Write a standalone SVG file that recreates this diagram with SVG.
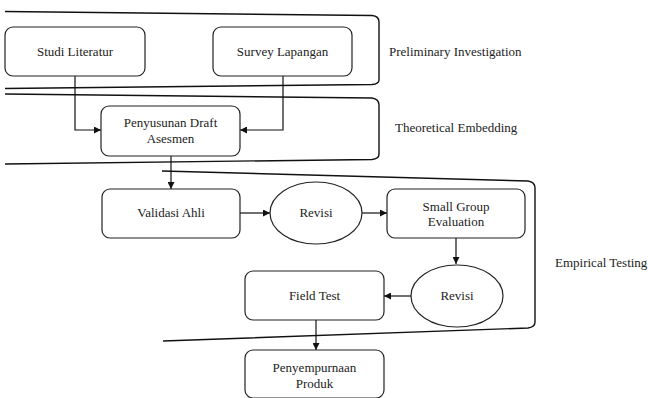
<svg xmlns="http://www.w3.org/2000/svg" width="648" height="398" viewBox="0 0 648 398">
<style>
.box{fill:#fff;stroke:#222;stroke-width:1.2}
.ell{fill:#fff;stroke:#222;stroke-width:1.2}
.ln{fill:none;stroke:#111;stroke-width:1.2}
.br{fill:none;stroke:#111;stroke-width:1.4}
text{font-family:'Liberation Serif','DejaVu Serif',serif;font-size:13px;fill:#222;text-anchor:middle}
.lbl{text-anchor:start}
</style>
<defs>
<marker id="ah" viewBox="0 0 10 10" refX="10" refY="5" markerWidth="7" markerHeight="7" markerUnits="userSpaceOnUse" orient="auto">
<path d="M0,0 L10,5 L0,10 z" fill="#111"/>
</marker>
</defs>
<g id="brackets">
<path class="br" d="M5,11.5 L372,15.5 Q379,16 379,22 L379,80 Q379,84 372,84.5 L5,88.5"/>
<path class="br" d="M5,94 L372,98 Q379,99 379,105 L379,154 Q379,159 372,159.5 L5,164"/>
<path class="br" d="M162,171 L528,181 Q535,182 535,188 L535,322 Q535,327 528,328 L163,341"/>
</g>
<g id="labels" font-family="Liberation Serif, DejaVu Serif, serif">
<text class="lbl" x="389" y="56">Preliminary Investigation</text>
<text class="lbl" x="395" y="132">Theoretical Embedding</text>
<text class="lbl" x="555" y="267">Empirical Testing</text>
</g>
<g id="connectors">
<path class="ln" d="M75,76 L75,130 L101,130" marker-end="url(#ah)"/>
<path class="ln" d="M283,76 L283,130 L240,130" marker-end="url(#ah)"/>
<path class="ln" d="M171,156 L171,189" marker-end="url(#ah)"/>
<path class="ln" d="M240,213 L270,213" marker-end="url(#ah)"/>
<path class="ln" d="M362,213 L387,213" marker-end="url(#ah)"/>
<path class="ln" d="M456,238 L456,264" marker-end="url(#ah)"/>
<path class="ln" d="M411,296 L384,296" marker-end="url(#ah)"/>
<path class="ln" d="M316,320 L316,350" marker-end="url(#ah)"/>
</g>
<g id="studi-literatur">
<rect class="box" x="5" y="27" width="140" height="49" rx="8"/>
<text x="75" y="56">Studi Literatur</text>
</g>
<g id="survey-lapangan">
<rect class="box" x="213" y="27" width="139" height="49" rx="8"/>
<text x="282.5" y="56">Survey Lapangan</text>
</g>
<g id="penyusunan-draft">
<rect class="box" x="101" y="106" width="139" height="50" rx="8"/>
<text x="170.5" y="127">Penyusunan Draft</text>
<text x="170.5" y="143">Asesmen</text>
</g>
<g id="validasi-ahli">
<rect class="box" x="102" y="189" width="138" height="49" rx="8"/>
<text x="171" y="217">Validasi Ahli</text>
</g>
<g id="revisi-1">
<ellipse class="ell" cx="316" cy="213" rx="46" ry="31"/>
<text x="316" y="217">Revisi</text>
</g>
<g id="small-group">
<rect class="box" x="387" y="189" width="138" height="49" rx="8"/>
<text x="456" y="211">Small Group</text>
<text x="456" y="226">Evaluation</text>
</g>
<g id="revisi-2">
<ellipse class="ell" cx="457" cy="296" rx="46" ry="31"/>
<text x="457" y="300">Revisi</text>
</g>
<g id="field-test">
<rect class="box" x="245" y="271" width="139" height="49" rx="8"/>
<text x="314.5" y="300">Field Test</text>
</g>
<g id="penyempurnaan-produk">
<rect class="box" x="245" y="350" width="139" height="48" rx="8"/>
<text x="314.5" y="372">Penyempurnaan</text>
<text x="314.5" y="388">Produk</text>
</g>
</svg>
